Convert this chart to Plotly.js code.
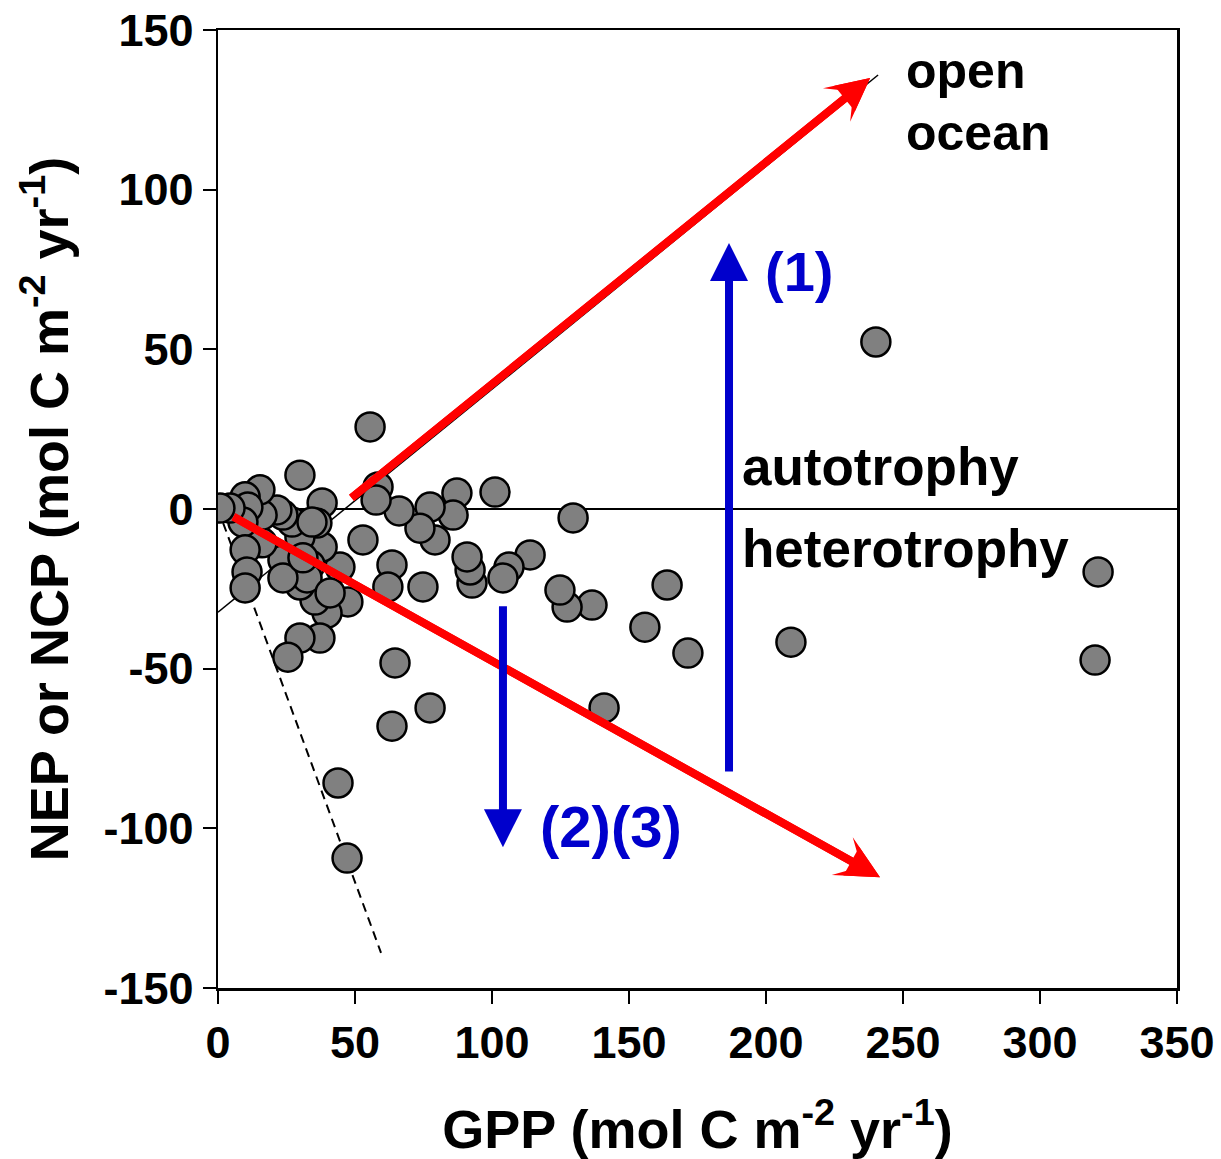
<!DOCTYPE html>
<html>
<head>
<meta charset="utf-8">
<script src="https://cdn.plot.ly/plotly-3.0.1.min.js"></script>
<style>html,body{margin:0;padding:0;background:#fff}#chart{width:1221px;height:1159px}</style>
</head>
<body>
<div id="chart"></div>
<script>
// Observed GPP vs NEP/NCP points
const gpp = [240.1,321.2,320.1,209.1,171.5,163.9,155.8,140.9,136.5,129.6,127.4,124.8,113.9,106.2,104.0,101.1,92.7,92.0,90.9,87.2,85.8,79.2,77.4,77.4,74.8,73.7,66.1,64.6,63.5,63.5,62.0,58.4,57.7,55.5,52.9,47.4,47.1,43.8,44.5,39.8,38.0,38.0,37.2,36.1,35.4,33.6,29.9,29.9,29.9,29.9,32.5,27.0,25.5,23.7,23.7,23.7,21.5,16.1,16.1,15.3,9.9,10.9,9.1,9.9,10.6,9.9,4.4,0.7,31.0,40.9,34.3];
const nep = [52.3,-19.7,-47.3,-41.7,-45.1,-23.8,-37.0,-62.3,-30.1,-2.8,-30.7,-25.4,-14.4,-18.2,-21.6,5.3,-23.2,-19.1,-15.0,5.0,-1.9,-9.7,0.6,-62.3,-24.4,-6.0,-0.6,-48.2,-68.0,-17.5,-24.4,6.9,2.8,25.7,-9.7,-29.1,-109.3,-85.8,-18.2,-32.6,1.9,-11.9,-40.4,-4.4,-28.5,-17.5,10.6,-23.8,-40.4,-8.8,-21.6,-4.1,-46.4,-16.0,-21.6,-1.9,-0.3,-10.6,-1.9,6.0,3.8,0.6,-4.1,-12.8,-19.7,-24.7,0.3,0.3,-15.3,-26.3,-4.1];

// Reference lines
const zeroLineX = [0, 350];
const zeroLineY = [0, 0];
const solidLineX = [0, 240.9];
const solidLineY = [-32.3, 135.9];
const dashLineX = [0, 59.5];
const dashLineY = [0, -139];

// Arrows: [tailX, tailY, tipX, tipY]
const redArrowUp = [48.2, 3.1, 238.0, 135.0];
const redArrowDown = [5.1, -2.2, 241.6, -115.3];
const blueArrowUp = [186.5, -82.7, 186.5, 83.3];
const blueArrowDown = [104.0, -30.0, 104.0, -105.9];

// Tick labels
const xTicks = [0,50,100,150,200,250,300,350];
const yTicks = [-150,-100,-50,0,50,100,150];

const FONT = 'Liberation Sans, Arial, Helvetica, sans-serif';

const traces = [
  {x: zeroLineX, y: zeroLineY, mode: 'lines', line: {color: '#000', width: 2}, hoverinfo: 'skip'},
  {x: solidLineX, y: solidLineY, mode: 'lines', line: {color: '#000', width: 1.5}, hoverinfo: 'skip'},
  {x: dashLineX, y: dashLineY, mode: 'lines', line: {color: '#000', width: 2, dash: '9px,6px'}, hoverinfo: 'skip'},
  {x: gpp, y: nep, mode: 'markers', type: 'scatter',
   marker: {size: 29, color: '#808080', line: {color: '#000', width: 2.5}}}
];

function arrow(a, color, head, size) {
  return {x: a[2], y: a[3], ax: a[0], ay: a[1], xref: 'x', yref: 'y', axref: 'x', ayref: 'y',
    text: '', showarrow: true, arrowhead: head, arrowsize: size, arrowwidth: 8, arrowcolor: color};
}
function label(txt, x, y, color, size) {
  return {x: x, y: y, xref: 'x', yref: 'y', text: '<b>' + txt + '</b>', showarrow: false,
    xanchor: 'left', yanchor: 'middle', font: {family: FONT, size: size, color: color}};
}

const layout = {
  width: 1221, height: 1159,
  margin: {l: 218, r: 44, t: 30, b: 171},
  paper_bgcolor: '#fff', plot_bgcolor: '#fff',
  showlegend: false,
  font: {family: FONT, color: '#000'},
  xaxis: {
    range: [0, 350], tickvals: xTicks, ticktext: xTicks.map(String),
    showgrid: false, zeroline: false, showline: true, linewidth: 2.5, linecolor: '#000', mirror: true,
    ticks: 'outside', ticklen: 13, tickwidth: 2, tickcolor: '#000',
    tickfont: {family: FONT, size: 45, weight: 'bold'},
    title: {text: '<b>GPP (mol C m<sup>-2</sup> yr<sup>-1</sup>)</b>', font: {family: FONT, size: 54}, standoff: 44}
  },
  yaxis: {
    range: [-150, 150], tickvals: yTicks, ticktext: yTicks.map(String),
    showgrid: false, zeroline: false, showline: true, linewidth: 2.5, linecolor: '#000', mirror: true,
    ticks: 'outside', ticklen: 13, tickwidth: 2, tickcolor: '#000',
    tickfont: {family: FONT, size: 45, weight: 'bold'},
    title: {text: '<b>NEP or NCP (mol C m<sup>-2</sup> yr<sup>-1</sup>)</b>', font: {family: FONT, size: 54}, standoff: 18}
  },
  annotations: [
    arrow(redArrowUp, '#FF0000', 3, 0.9),
    arrow(redArrowUp, '#FF0000', 2, 0.82),
    arrow(redArrowDown, '#FF0000', 3, 0.9),
    arrow(redArrowDown, '#FF0000', 2, 0.82),
    arrow(blueArrowUp, '#0000CC', 2, 0.95),
    arrow(blueArrowDown, '#0000CC', 2, 0.95),
    label('open', 250.4, 137.2, '#000', 50),
    label('ocean', 250.4, 117.8, '#000', 50),
    label('autotrophy', 190.5, 13.2, '#000', 53),
    label('heterotrophy', 190.5, -12.5, '#000', 53),
    label('(1)', 198.9, 74.5, '#0000CC', 56),
    label('(2)(3)', 116.8, -99.3, '#0000CC', 58)
  ]
};

Plotly.newPlot('chart', traces, layout, {displayModeBar: false, staticPlot: true});
</script>
</body>
</html>
